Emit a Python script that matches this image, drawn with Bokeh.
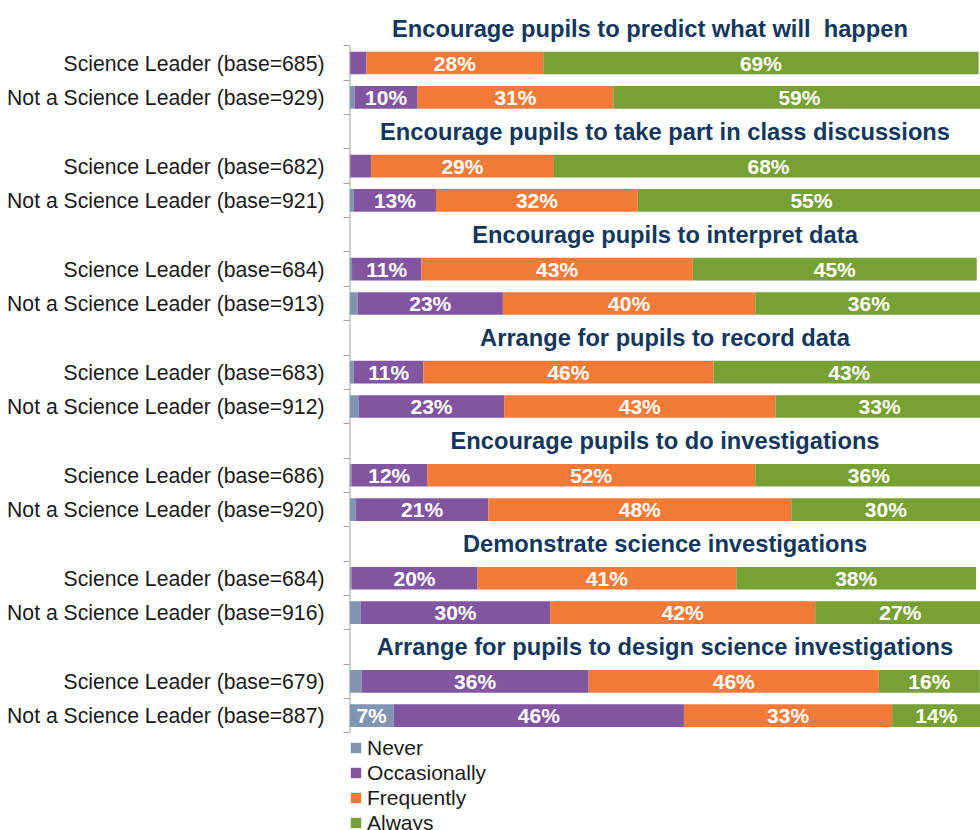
from bokeh.plotting import figure
from bokeh.models import ColumnDataSource, FixedTicker, Legend, LegendItem, Range1d
from bokeh.core.properties import value
from bokeh.embed import file_html
from bokeh.resources import INLINE

titles = [
    "Encourage pupils to predict what will\u00a0 happen",
    "Encourage pupils to take part in class discussions",
    "Encourage pupils to interpret data",
    "Arrange for pupils to record data",
    "Encourage pupils to do investigations",
    "Demonstrate science investigations",
    "Arrange for pupils to design science investigations",
]
bases_sl = [685, 682, 684, 683, 686, 684, 679]
bases_nsl = [929, 921, 913, 912, 920, 916, 887]

series_names = ["Never", "Occasionally", "Frequently", "Always"]
never = [0, 0.8, 0, 0.7, 0.4, 1.3, 0.7, 1.5, 0.3, 1, 0.3, 1.8, 1.9, 7]
occasionally = [2.7, 10, 3.4, 13, 11, 23, 11, 23, 12, 21, 20, 30, 36, 46]
frequently = [28, 31, 29, 32, 43, 40, 46, 43, 52, 48, 41, 42, 46, 33]
always = [69, 59, 68, 55, 45, 36, 43, 33, 36, 30, 38, 27, 16, 14]

colors = ["#7F95B2", "#8255A0", "#F47A37", "#77A134"]
FONT = "Liberation Sans"

# row layout: title row, SL row, NSL row per group
ys, labels, title_ys = [], [], []
for g in range(len(titles)):
    title_ys.append(3 * g - 1)
    ys += [3 * g, 3 * g + 1]
    labels += [f"Science Leader (base={bases_sl[g]})", f"Not a Science Leader (base={bases_nsl[g]})"]

n_rows = 3 * len(titles)
W, H = 980, 830
TOP, LEFT = 11, 349
ROW_PX = 34.35
frame_h = H - TOP
y_end = -1.5 + frame_h / ROW_PX   # frame continues below the bars to hold the legend

p = figure(width=W, height=H, output_backend="svg", toolbar_location=None,
           x_range=Range1d(0, 100), y_range=Range1d(y_end, -1.5),
           min_border_left=LEFT, min_border_right=0, min_border_top=TOP, min_border_bottom=0)
p.outline_line_color = None
p.xgrid.visible = False
p.ygrid.visible = False
p.xaxis.visible = False

source = ColumnDataSource(dict(y=ys, Never=never, Occasionally=occasionally,
                               Frequently=frequently, Always=always))
rs = p.hbar_stack(series_names, y="y", height=0.66, color=colors, line_color=None, source=source)

# segment labels
series = [never, occasionally, frequently, always]
lx, ly, lt = [], [], []
for i in range(len(ys)):
    left = 0
    for s in series:
        v = s[i]
        if v >= 5:
            lx.append(left + v / 2)
            ly.append(ys[i])
            lt.append(f"{v:.0f}%")
        left += v
p.text(x=lx, y=ly, text=lt, text_color="white", text_font=value(FONT), text_font_style="bold",
       text_font_size="21px", text_align="center", text_baseline="middle")

# group titles
offs = [-15] + [0] * (len(titles) - 1)
p.text(x=[50] * len(titles), y=title_ys, text=titles, x_offset=offs, text_color="#12375C",
       text_font=value(FONT), text_font_style="bold", text_font_size="23.7px",
       text_align="center", text_baseline="middle")

# axis line (only over the bar rows)
p.segment(x0=[0], y0=[-0.5], x1=[0], y1=[n_rows - 1.5], line_color="#A0A0A0", line_width=2)

ax = p.yaxis[0]
ax.ticker = FixedTicker(ticks=ys, minor_ticks=[k + 0.5 for k in range(-1, n_rows - 1)])
ax.major_label_overrides = {y: lab for y, lab in zip(ys, labels)}
ax.axis_line_color = None
ax.major_tick_line_color = None
ax.major_tick_out = 0
ax.major_tick_in = 0
ax.minor_tick_out = 6
ax.minor_tick_in = 0
ax.minor_tick_line_color = "#A0A0A0"
ax.minor_tick_line_width = 1
ax.major_label_standoff = 19
ax.major_label_text_font = FONT
ax.major_label_text_font_size = "21.2px"
ax.major_label_text_color = "#1A1A1A"

legend = Legend(items=[LegendItem(label=n, renderers=[r]) for n, r in zip(series_names, rs)],
                location=(0, -5), orientation="vertical",
                glyph_width=13, glyph_height=13, label_standoff=5, spacing=0,
                label_height=25, label_text_font=FONT, label_text_font_size="21px",
                label_text_color="#1A1A1A", border_line_color=None, background_fill_alpha=0,
                padding=0, margin=0)
p.add_layout(legend, "center")

open("out.html", "w").write(file_html(p, INLINE))
